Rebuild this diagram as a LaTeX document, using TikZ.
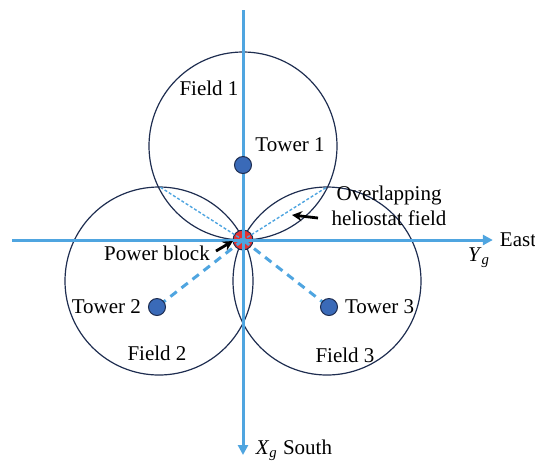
\documentclass[tikz,border=0pt]{standalone}
\usepackage{fontspec}
\setmainfont{Liberation Serif}
\usepackage{xcolor}
\usetikzlibrary{arrows.meta,positioning}
\definecolor{axisblue}{RGB}{79,165,224}
\definecolor{towerblue}{RGB}{58,106,184}
\definecolor{edgeblue}{RGB}{30,45,80}
\definecolor{blockred}{RGB}{230,50,50}
\newcommand{\gsub}[1]{\textit{#1}\textsubscript{\textit{g}}}

\begin{document}
\begin{tikzpicture}[x=0.5pt, y=-0.5pt, font=\fontsize{10.5}{12.5}\selectfont,
  field/.style={draw=edgeblue, line width=0.6pt, circle, minimum size=94pt, inner sep=0pt},
  tower/.style={draw=edgeblue, fill=towerblue, circle, minimum size=8.5pt, inner sep=0pt, line width=0.5pt},
  axis/.style={draw=axisblue, line width=1.5pt, -{Triangle[length=5pt, width=5pt]}},
  feed/.style={draw=axisblue, line width=1.5pt, dash pattern=on 4pt off 3pt},
  rim/.style={draw=axisblue, line width=0.7pt, dash pattern=on 1.5pt off 1pt},
  pointer/.style={draw=black, line width=1.4pt, -{Stealth[length=5pt, width=5pt]}}]
\useasboundingbox (0,0) rectangle (535,462);
% heliostat fields
\node[field] (f1) at (243,146) {};
\node[field] (f2) at (159,281) {};
\node[field] (f3) at (327,281) {};
\coordinate (i12) at (160,187);
\coordinate (i13) at (327,187);
% ground axes
\coordinate (west) at (12,240);
\coordinate (north) at (243,10);
\node (east) at (518,240) {East};
\node (south) at (294,450) {\gsub{X} South};
\node (yg) at (479,258) {\gsub{Y}};
\node[draw=edgeblue, fill=blockred, circle, minimum size=10pt, inner sep=0pt, line width=0.5pt] (pb) at (243,240) {};
\draw[axis] (west) -- (east.west);
\draw[axis] (north) -- (243,455);
% links from power block
\draw[rim] (pb.center) -- (i12);
\draw[rim] (pb.center) -- (i13);
\draw[feed] (pb.center) -- (157,307);
\draw[feed] (pb.center) -- (329,307);
% towers
\node[tower] (t1) at (243,165) {};
\node[tower] (t2) at (157,307) {};
\node[tower] (t3) at (329,307) {};
% labels
\node (lf1) at (209,88) {Field 1};
\node (lf2) at (157,353) {Field 2};
\node (lf3) at (345,355) {Field 3};
\node (lt1) at (290,145) {Tower 1};
\node[left=0pt of t2] (lt2) {Tower 2};
\node[right=0pt of t3] (lt3) {Tower 3};
\node (lpb) at (157,253) {Power block};
\node[align=center, inner sep=1pt] (lov) at (389,206) {Overlapping\\heliostat field};
\coordinate (apb) at (216,251);
\coordinate (aov) at (318,218);
\draw[pointer] (apb) -- (233,241);
\draw[pointer] (aov) -- (292,215);
\end{tikzpicture}
\end{document}
